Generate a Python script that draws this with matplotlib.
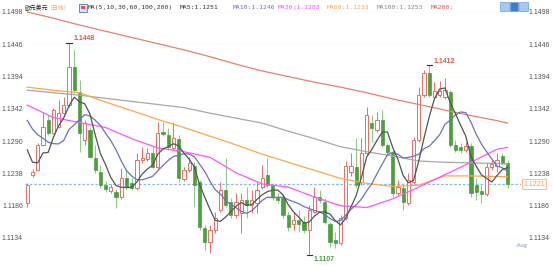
import numpy as np
import pandas as pd
import matplotlib
matplotlib.use("Agg")
import matplotlib.pyplot as plt
from matplotlib.patches import Rectangle

# --- daily EUR/USD candles (open, high, low, close) ---
opens = [1.1190, 1.1236, 1.1244, 1.1284, 1.1324, 1.1303, 1.1313, 1.1335, 1.1348, 1.1409,
         1.1369, 1.1292, 1.1308, 1.1263, 1.1240, 1.1219, 1.1210, 1.1208, 1.1200, 1.1231,
         1.1223, 1.1215, 1.1260, 1.1261, 1.1271, 1.1248, 1.1305, 1.1300, 1.1279, 1.1293,
         1.1229, 1.1244, 1.1250, 1.1224, 1.1150, 1.1128, 1.1147, 1.1179, 1.1211, 1.1192,
         1.1171, 1.1174, 1.1195, 1.1187, 1.1190, 1.1216, 1.1236, 1.1219, 1.1200, 1.1198,
         1.1171, 1.1157, 1.1163, 1.1160, 1.1147, 1.1176, 1.1200, 1.1192, 1.1157, 1.1131,
         1.1126, 1.1166, 1.1240, 1.1248, 1.1224, 1.1271, 1.1319, 1.1308, 1.1324, 1.1284,
         1.1271, 1.1207, 1.1215, 1.1190, 1.1224, 1.1292, 1.1364, 1.1400, 1.1361, 1.1364,
         1.1361, 1.1369, 1.1284, 1.1281, 1.1276, 1.1282, 1.1219, 1.1210, 1.1205, 1.1248,
         1.1250, 1.1266, 1.1255]
highs = [1.1223, 1.1245, 1.1287, 1.1337, 1.1332, 1.1343, 1.1356, 1.1361, 1.1448, 1.1437,
         1.1389, 1.1324, 1.1313, 1.1284, 1.1252, 1.1226, 1.1221, 1.1213, 1.1247, 1.1244,
         1.1231, 1.1271, 1.1281, 1.1279, 1.1281, 1.1321, 1.1321, 1.1311, 1.1321, 1.1300,
         1.1248, 1.1265, 1.1256, 1.1228, 1.1155, 1.1155, 1.1176, 1.1224, 1.1263, 1.1198,
         1.1207, 1.1207, 1.1216, 1.1211, 1.1224, 1.1252, 1.1263, 1.1223, 1.1207, 1.1203,
         1.1176, 1.1176, 1.1179, 1.1169, 1.1187, 1.1216, 1.1211, 1.1198, 1.1160, 1.1144,
         1.1171, 1.1258, 1.1271, 1.1295, 1.1295, 1.1345, 1.1332, 1.1337, 1.1340, 1.1287,
         1.1276, 1.1228, 1.1221, 1.1239, 1.1297, 1.1377, 1.1405, 1.1412, 1.1385, 1.1387,
         1.1392, 1.1372, 1.1292, 1.1287, 1.1289, 1.1287, 1.1231, 1.1219, 1.1255, 1.1260,
         1.1271, 1.1271, 1.1260]
lows = [1.1184, 1.1233, 1.1242, 1.1282, 1.1300, 1.1301, 1.1311, 1.1333, 1.1345, 1.1368,
        1.1273, 1.1284, 1.1263, 1.1239, 1.1215, 1.1208, 1.1207, 1.1182, 1.1197, 1.1211,
        1.1211, 1.1211, 1.1255, 1.1258, 1.1247, 1.1245, 1.1298, 1.1276, 1.1276, 1.1224,
        1.1226, 1.1240, 1.1184, 1.1147, 1.1115, 1.1110, 1.1142, 1.1176, 1.1184, 1.1166,
        1.1166, 1.1142, 1.1166, 1.1174, 1.1174, 1.1213, 1.1216, 1.1195, 1.1190, 1.1166,
        1.1145, 1.1147, 1.1144, 1.1142, 1.1107, 1.1174, 1.1190, 1.1157, 1.1120, 1.1118,
        1.1123, 1.1163, 1.1234, 1.1215, 1.1219, 1.1268, 1.1289, 1.1305, 1.1281, 1.1268,
        1.1200, 1.1203, 1.1179, 1.1187, 1.1221, 1.1289, 1.1361, 1.1361, 1.1358, 1.1361,
        1.1358, 1.1281, 1.1273, 1.1271, 1.1273, 1.1200, 1.1195, 1.1190, 1.1202, 1.1244,
        1.1240, 1.1252, 1.1215]
closes = [1.1219, 1.1240, 1.1284, 1.1313, 1.1303, 1.1340, 1.1335, 1.1348, 1.1409, 1.1372,
          1.1303, 1.1319, 1.1265, 1.1244, 1.1219, 1.1213, 1.1216, 1.1200, 1.1231, 1.1216,
          1.1215, 1.1260, 1.1263, 1.1271, 1.1248, 1.1303, 1.1302, 1.1281, 1.1295, 1.1231,
          1.1244, 1.1255, 1.1219, 1.1152, 1.1128, 1.1147, 1.1166, 1.1211, 1.1187, 1.1171,
          1.1192, 1.1195, 1.1187, 1.1195, 1.1211, 1.1231, 1.1219, 1.1200, 1.1195, 1.1171,
          1.1152, 1.1163, 1.1157, 1.1147, 1.1179, 1.1200, 1.1195, 1.1160, 1.1128, 1.1126,
          1.1166, 1.1250, 1.1250, 1.1219, 1.1271, 1.1332, 1.1311, 1.1324, 1.1284, 1.1273,
          1.1207, 1.1216, 1.1192, 1.1227, 1.1292, 1.1364, 1.1400, 1.1364, 1.1371, 1.1371,
          1.1372, 1.1284, 1.1276, 1.1276, 1.1282, 1.1207, 1.1208, 1.1205, 1.1248, 1.1253,
          1.1260, 1.1255, 1.1221]
# closes before the visible window (only used to start MA5 / MA10)
prior_closes = [1.1380, 1.1375, 1.1370, 1.1365, 1.1365, 1.1339, 1.1289, 1.1233, 1.1299]

# long moving averages, every 5 bars
ma_idx = [0, 5, 10, 15, 20, 25, 30, 35, 40, 45, 50, 55, 60, 65, 70, 75, 80, 85, 90, 92]
ma30 = [1.1348, 1.1328, 1.1320, 1.1312, 1.1294, 1.1279, 1.1273, 1.1264, 1.1239, 1.1221,
        1.1216, 1.1200, 1.1186, 1.1183, 1.1197, 1.1216, 1.1236, 1.1256, 1.1277, 1.1280]
ma60 = [1.1377, 1.1372, 1.1368, 1.1353, 1.1339, 1.1325, 1.1312, 1.1298, 1.1284, 1.1269,
        1.1256, 1.1243, 1.1230, 1.1222, 1.1217, 1.1219, 1.1234, 1.1234, 1.1233, 1.1233]
ma100 = [1.1372, 1.1368, 1.1364, 1.1359, 1.1354, 1.1349, 1.1344, 1.1335, 1.1327, 1.1319,
         1.1306, 1.1294, 1.1281, 1.1273, 1.1266, 1.1258, 1.1256, 1.1255, 1.1254, 1.1253]
ma200 = [1.1498, 1.1488, 1.1477, 1.1467, 1.1457, 1.1447, 1.1437, 1.1426, 1.1414, 1.1403,
         1.1394, 1.1385, 1.1377, 1.1368, 1.1358, 1.1349, 1.1340, 1.1331, 1.1323, 1.1319]

yticks = [1.1134, 1.1186, 1.1238, 1.1290, 1.1342, 1.1394, 1.1446, 1.1498]
last_price = 1.1221

# --- colours ---
UP = "#e8706a"
DOWN = "#4c9f3c"
DOWN_WICK = "#8ec78a"
C_MA5 = "#555555"
C_MA10 = "#6a72c4"
C_MA30 = "#ff55ff"
C_MA60 = "#ffa64d"
C_MA100 = "#a8a8a8"
C_MA200 = "#e8806f"

W, H = 553, 268
fig = plt.figure(figsize=(W / 100, H / 100), dpi=100)
fig.patch.set_facecolor("white")

# axes placement in pixels
left_px, right_px, top_px, bot_px = 25, 521, 10, 266
ax = fig.add_axes([left_px / W, 1 - bot_px / H, (right_px - left_px) / W, (bot_px - top_px) / H])

n = len(closes)
x = np.arange(n)
o = np.array(opens); h = np.array(highs); l = np.array(lows); c = np.array(closes)
up = c >= o

# wicks (skip the part hidden by the body)
body_top = np.maximum(o, c)
body_bot = np.minimum(o, c)
ax.vlines(x[up], body_top[up], h[up], color=UP, lw=0.7, zorder=2)
ax.vlines(x[up], l[up], body_bot[up], color=UP, lw=0.7, zorder=2)
ax.vlines(x[~up], l[~up], h[~up], color=DOWN_WICK, lw=0.7, zorder=2)

bw = 0.62
ax.bar(x[up], (body_top - body_bot)[up], bottom=body_bot[up], width=bw,
       facecolor="white", edgecolor=UP, linewidth=0.7, zorder=3)
ax.bar(x[~up], np.maximum((body_top - body_bot)[~up], 0.00004), bottom=body_bot[~up], width=bw,
       facecolor=DOWN, edgecolor=DOWN, linewidth=0.5, zorder=3)

# moving averages
all_c = pd.Series(prior_closes + closes)
ma5 = all_c.rolling(5).mean().to_numpy()[len(prior_closes):]
ma10 = all_c.rolling(10).mean().to_numpy()[len(prior_closes):]

ax.plot(ma_idx, ma200, color=C_MA200, lw=0.9, zorder=4)
ax.plot(ma_idx, ma100, color=C_MA100, lw=0.9, zorder=4)
ax.plot(ma_idx, ma60, color=C_MA60, lw=0.9, zorder=4)
ax.plot(ma_idx, ma30, color=C_MA30, lw=0.9, zorder=4)
ax.plot(x, ma10, color=C_MA10, lw=0.9, zorder=5)
ax.plot(x, ma5, color=C_MA5, lw=0.9, zorder=6)

# last price line
ax.axhline(last_price, color="#8ab8f0", lw=0.9, ls=(0, (2, 1.5)), zorder=1)

# high / low markers
i_hi = int(np.argmax(h[:40]))
i_hi2 = 40 + int(np.argmax(h[40:]))
i_lo = int(np.argmin(l))
for i in (i_hi, i_hi2, i_lo):
    yv = h[i] if i != i_lo else l[i]
    ax.plot([i - 0.5, i + 0.5], [yv, yv], color="#333333", lw=0.8, zorder=6)
ax.text(i_hi + 0.9, h[i_hi] + 0.0001, f"{h[i_hi]:.4f}", color="#e05555", fontsize=5,
        fontweight="bold", ha="left", va="bottom", family="Liberation Sans")
ax.text(i_hi2 + 0.9, h[i_hi2] + 0.0001, f"{h[i_hi2]:.4f}", color="#e05555", fontsize=5,
        fontweight="bold", ha="left", va="bottom", family="Liberation Sans")
ax.text(i_lo + 0.9, l[i_lo] - 0.0002, f"{l[i_lo]:.4f}", color="#4c9f3c", fontsize=5,
        fontweight="bold", ha="left", va="top", family="Liberation Sans")

# axes styling
ax.set_xlim((left_px - 27.3) / 5.22, (right_px - 27.3) / 5.22)
ppx = 0.0364 / 226
ax.set_ylim(1.1498 - (bot_px - 12) * ppx, 1.1498 + (12 - top_px) * ppx)
for s in ax.spines.values():
    s.set_visible(False)
ax.set_xticks([])
ax.set_yticks(yticks)
ax.set_yticklabels([f"{v:.4f}" for v in yticks])
ax.tick_params(axis="y", length=0, labelleft=True, labelright=True, labelsize=5,
               labelcolor="#555555", pad=1.5)
for lab in ax.get_yticklabels():
    lab.set_family("Liberation Sans")
for t in ax.yaxis.get_major_ticks():
    t.label2.set_x(1 + 5 / (right_px - left_px))
ax.grid(axis="y", color="#eeeeee", lw=0.5, ls=(0, (1, 2)), zorder=0)

# last price box on the right
fig.text(523 / W, 1 - 184 / H, f"{last_price:.4f}", color="#ff9a3c", fontsize=5,
         family="Liberation Sans", ha="left", va="center",
         bbox=dict(boxstyle="square,pad=0.15", fc="white", ec="#ffb070", lw=0.6))
fig.text(527 / W, 1 - 245 / H, "-Aug", color="#7a8fc8", fontsize=4,
         family="Liberation Sans", ha="right", va="center")

# title line
ty = 1 - 7.5 / H
cjk = ["Noto Sans CJK SC", "DejaVu Sans"]
mono = ["DejaVu Sans Mono", "Noto Sans CJK SC"]
fig.text(25 / W, ty, "欧元美元", color="#222222", fontsize=4.2, family=cjk, va="center")
fig.text(47 / W, ty, "（日线）", color="#ff9a3c", fontsize=4.2, family=cjk, va="center")
fig.patches.append(Rectangle((79 / W, 1 - 12 / H), 8 / W, 8 / H, transform=fig.transFigure,
                             fc="#dfe6f5", ec="#5577bb", lw=0.6))
fig.patches.append(Rectangle((81 / W, 1 - 9 / H), 4 / W, 3 / H, transform=fig.transFigure,
                             fc="#e05555", ec="none"))
segments = [
    (88, "MA(5,10,30,60,100,200)", "#333333"),
    (180, "MA5:1.1251", "#333333"),
    (233, "MA10:1.1246", C_MA10),
    (278, "MA30:1.1282", C_MA30),
    (327, "MA60:1.1233", C_MA60),
    (377, "MA100:1.1253", "#888888"),
    (431, "MA200:", "#e05555"),
]
for px, s, col in segments:
    fig.text(px / W, ty, s, color=col, fontsize=4.6, family=mono, va="center")

# toolbar icons top right
for k, col in enumerate(["#a9c8ee", "#3d7cc9", "#a9c8ee"]):
    fig.patches.append(Rectangle(((500 + k * 9.5) / W, 1 - 11 / H), 8.5 / W, 8.5 / H,
                                 transform=fig.transFigure, fc=col, ec="#6f9fd8", lw=0.5))

fig.savefig("out.png", dpi=100, facecolor="white")
